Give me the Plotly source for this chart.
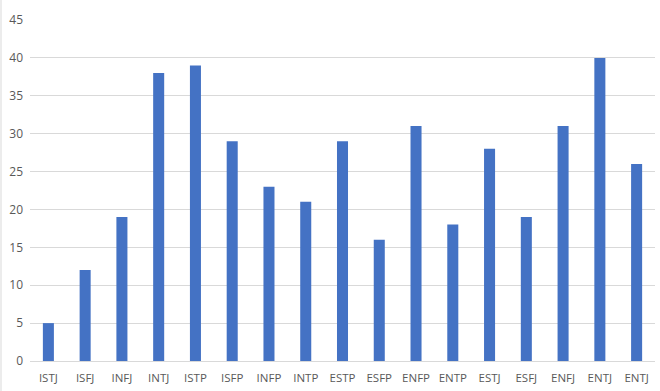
import plotly.graph_objects as go

categories = ["ISTJ", "ISFJ", "INFJ", "INTJ", "ISTP", "ISFP", "INFP", "INTP", "ESTP",
              "ESFP", "ENFP", "ENTP", "ESTJ", "ESFJ", "ENFJ", "ENTJ", "ENTJ"]
values = [5, 12, 19, 38, 39, 29, 23, 21, 29, 16, 31, 18, 28, 19, 31, 40, 26]
y_ticks = [0, 5, 10, 15, 20, 25, 30, 35, 40, 45]

positions = list(range(len(categories)))

fig = go.Figure(go.Bar(
    x=positions, y=values, width=0.3,
    marker=dict(color="#4472C4", line=dict(width=0)),
))

xfont = dict(family="Open Sans, Liberation Sans, sans-serif", size=11.5, color="#595959")
yfont = dict(family="Open Sans, Liberation Sans, sans-serif", size=12, color="#595959")

fig.update_layout(
    width=660, height=391,
    margin=dict(l=30, r=5, t=20, b=30),
    paper_bgcolor="white", plot_bgcolor="white",
    showlegend=False,
    font=xfont,
    xaxis=dict(
        tickmode="array", tickvals=positions, ticktext=categories,
        range=[-0.5, len(categories) - 0.5],
        showgrid=False, zeroline=False, showline=False, ticks="",
        tickfont=xfont, automargin=False, tickangle=0, ticklabelstandoff=8,
    ),
    yaxis=dict(
        tickmode="array", tickvals=y_ticks, range=[0, 45],
        showgrid=True, gridcolor="#D9D9D9", gridwidth=1,
        zeroline=True, zerolinecolor="#D9D9D9", zerolinewidth=1,
        showline=False, ticks="", ticklabelstandoff=6,
        tickfont=yfont, automargin=False,
    ),
    shapes=[dict(type="line", xref="paper", yref="paper",
                 x0=-29/625, x1=-29/625, y0=-30/341, y1=20/341 + 1,
                 line=dict(color="#D9D9D9", width=1))],
)

fig.write_html("out.html", config={"displayModeBar": False},
               post_script="document.body.style.margin='0';")
